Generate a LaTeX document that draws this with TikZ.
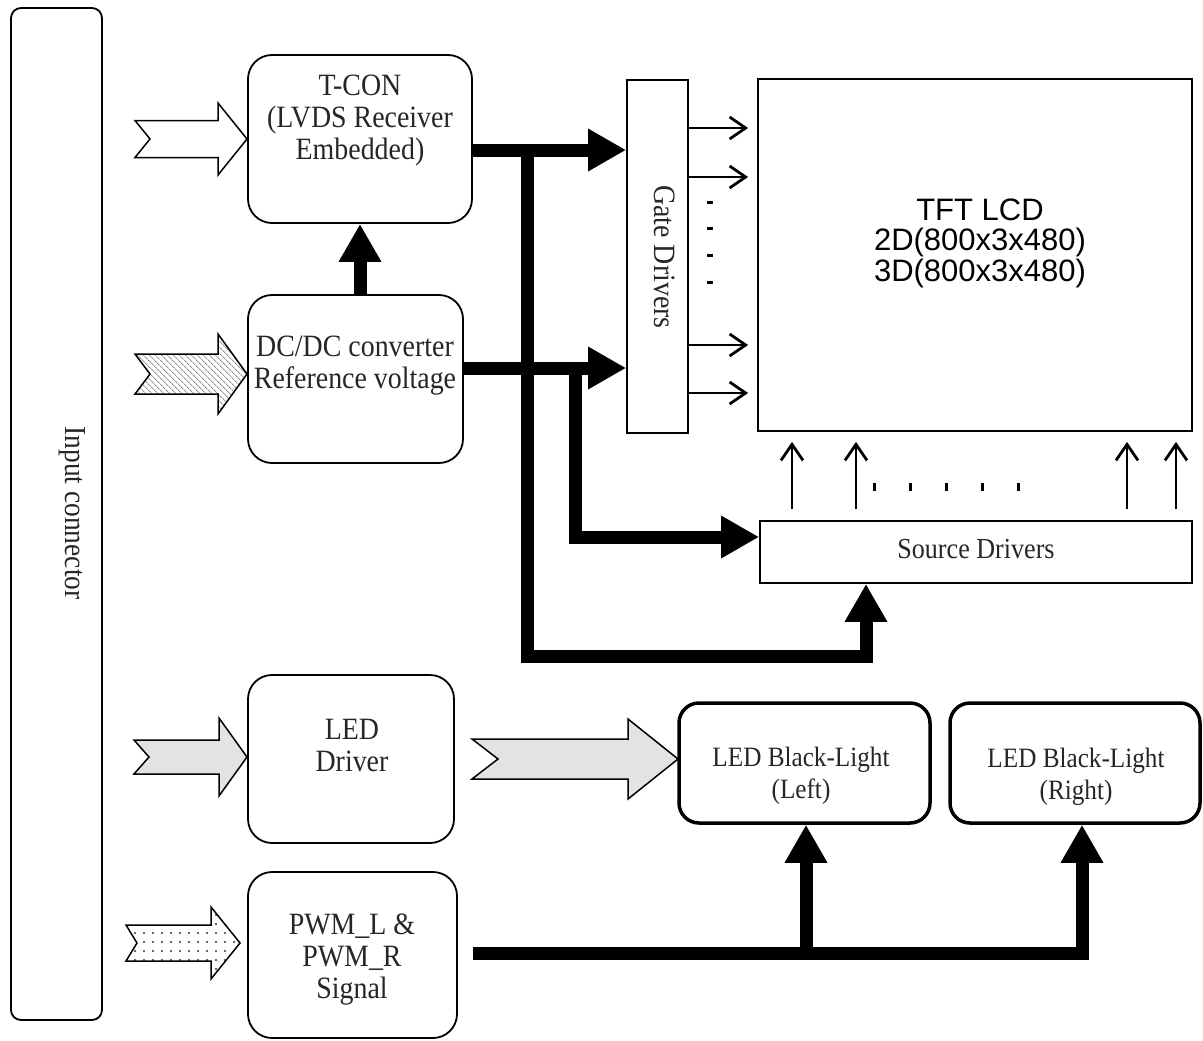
\documentclass[tikz,border=0pt]{standalone}
\usepackage{fontspec}
\setmainfont{Liberation Serif}[FakeStretch=0.9]
\newfontfamily\arialfont{Liberation Sans}
\usetikzlibrary{arrows.meta,patterns.meta,fit,calc}
\newcommand\blkarr[8]{% style, tail, notch, headbase, tip, cy, shaft half, head half
  \path[blockarr,#1] (#2,#6-#7) -- (#4,#6-#7) -- (#4,#6-#8) -- (#5,#6) -- (#4,#6+#8) -- (#4,#6+#7) -- (#2,#6+#7) -- (#3,#6) -- cycle;}
\begin{document}
\begin{tikzpicture}[x=1pt,y=-1pt,
  box/.style={draw, line width=1.8pt, rounded corners=24pt, inner sep=0pt},
  sqbox/.style={draw, line width=1.8pt, inner sep=0pt},
  blbox/.style={draw, line width=3.5pt, rounded corners=20pt, inner sep=0pt},
  lbl/.style={font=\fontsize{31}{32}\selectfont, align=center, inner sep=0pt, text=black!85},
  thickarr/.style={line width=13pt, line join=miter, -{Triangle[length=38pt,width=40pt]}},
  thinarr/.style={line width=2.8pt, -{Straight Barb[length=16pt,width=22pt,line width=2.8pt]}},
  blockarr/.style={draw, line width=1.5pt, line join=miter},
]
\useasboundingbox (0,0) rectangle (1203,1041);

% boxes
\node[box, rounded corners=10pt, fit={(11,8) (102,1020)}] (inp) {};
\node[box, fit={(248,55) (472,223)}] (tcon) {};
\node[box, fit={(248,295) (463,463)}] (dcdc) {};
\node[sqbox, fit={(627,80) (688,433)}] (gate) {};
\node[sqbox, fit={(758,79) (1192,431)}] (tft) {};
\node[sqbox, fit={(760,521) (1192,583)}] (src) {};
\node[box, fit={(248,675) (454,843)}] (led) {};
\node[box, fit={(248,872) (457,1038)}] (pwm) {};
\node[blbox, fit={(679,703) (930,823)}] (blL) {};
\node[blbox, fit={(950,703) (1200,823)}] (blR) {};

% texts
\node[lbl, rotate=-90, font=\fontsize{30.5}{32}\selectfont] (tinp) at (72,513) {Input connector};
\node[lbl] (ttcon) at (360,121) {T-CON\\(LVDS Receiver\\Embedded)};
\node[lbl] (tdcdc) at (355,366) {DC/DC converter\\Reference voltage};
\node[lbl, rotate=-90] (tgate) at (665,257) {Gate Drivers};
\node[font=\arialfont\fontsize{31}{30.5}\selectfont, align=center, inner sep=0pt] (ttft) at (980,243) {TFT LCD\\2D(800x3x480)\\3D(800x3x480)};
\node[lbl, font=\fontsize{29}{32}\selectfont] (tsrc) at (976,549) {Source Drivers};
\node[lbl] (tled) at (352,745) {LED\\Driver};
\node[lbl] (tpwm) at (352,960) {PWM\_L \&\\PWM\_R\\Signal};
\node[lbl, font=\fontsize{28}{32}\selectfont] (tblL) at (801,776) {LED Black-Light\\(Left)};
\node[lbl, font=\fontsize{28}{32}\selectfont] (tblR) at (1076,777) {LED Black-Light\\(Right)};

% input block arrows
\blkarr{fill=white}{135}{150}{218}{247}{139}{18.5}{36}
\blkarr{pattern={Lines[angle=-45,distance=4pt,line width=0.9pt]}, pattern color=gray!85}{135}{150}{218}{247}{374}{20}{40}
\blkarr{fill=gray!22}{134}{149}{219}{247}{757}{17}{39}
\blkarr{fill=gray!22}{472}{498}{628}{678}{759}{20}{40}
\blkarr{pattern={Dots[distance=9pt,radius=1.1pt]}, pattern color=black!80}{126}{137}{211}{240}{943}{18}{36}

% thick connectors
\coordinate (a1) at ([yshift=-11pt]tcon.east);
\coordinate (a2) at ([yshift=11pt]dcdc.east);
\draw[thickarr] (a1) -- (a1 -| gate.west);
\draw[thickarr] (a2) -- (a2 -| gate.west);
\draw[thickarr] (dcdc.north -| 360,0) -- (tcon.south -| 360,0);
\draw[thickarr] (a1 -| 527,0) -- (527,656) -| ([xshift=-110pt]src.south);
\draw[thickarr] (a2 -| 575,0) |- (src.west |- 0,537);
\draw[thickarr] ([xshift=15pt,yshift=2pt]pwm.east) -| ([xshift=7pt]blR.south);
\draw[thickarr] (806,953) -- (blL.south -| 806,0);

% thin connectors gate -> tft
\foreach \yy in {128,177,345,393}
  \draw[thinarr, shorten >=9pt] (gate.east |- 0,\yy) -- (tft.west |- 0,\yy);
% thin connectors source -> tft
\foreach \xx in {792,856,1127,1176}
  \draw[thinarr, shorten <=11pt, shorten >=10pt] (src.north -| \xx,0) -- (tft.south -| \xx,0);

% ellipsis marks
\foreach \yy in {202,228,255,282}
  \fill (707,\yy-1.5) rectangle (713,\yy+1.5);
\foreach \xx in {874,910,946,982,1018}
  \fill (\xx-1.5,483) rectangle (\xx+1.5,491);
\end{tikzpicture}
\end{document}
